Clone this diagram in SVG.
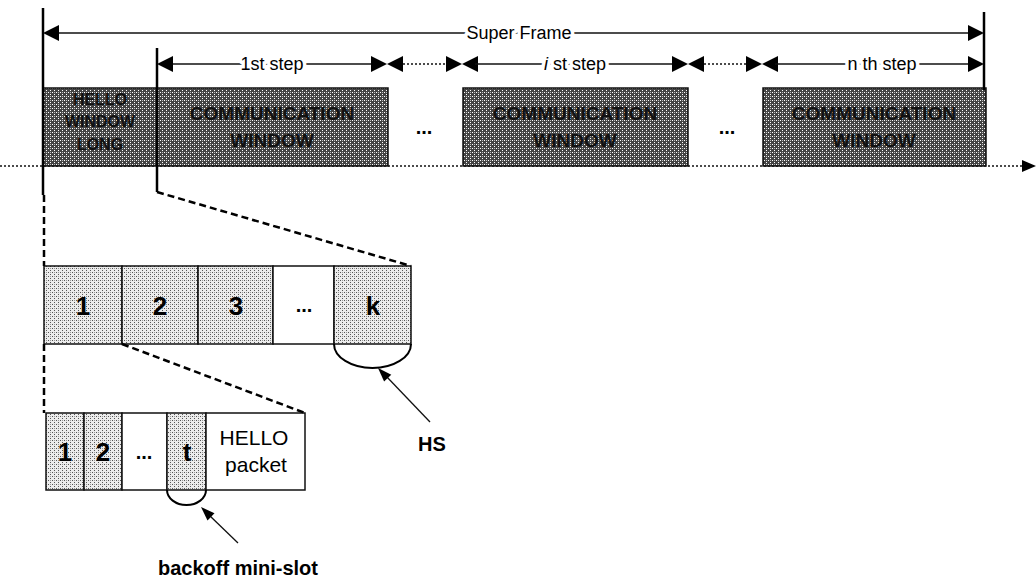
<svg xmlns="http://www.w3.org/2000/svg" width="1036" height="585" viewBox="0 0 1036 585">
<defs>
<pattern id="dark" width="4" height="4" patternUnits="userSpaceOnUse"><rect width="4" height="4" fill="#444"/><rect x="0" y="0" width="1" height="1" fill="#fff"/><rect x="2" y="2" width="1" height="1" fill="#fff"/><rect x="2" y="0" width="1" height="1" fill="#bbb"/></pattern>
<pattern id="light" width="4" height="4" patternUnits="userSpaceOnUse"><rect width="4" height="4" fill="#ececec"/><rect x="0" y="0" width="1" height="1" fill="#555"/><rect x="2" y="2" width="1" height="1" fill="#555"/><rect x="2" y="0" width="1" height="1" fill="#999"/></pattern>
<style>
text{font-family:"Liberation Sans",Arial,sans-serif;fill:#000}
.lbl{font-size:18px;paint-order:stroke;stroke:#fff;stroke-width:7px;stroke-linejoin:round}
.win{font-size:19px;font-weight:bold;fill:#111}
.hw{font-size:16px;font-weight:bold;fill:#111}
.num{font-size:26px;font-weight:bold}
.pk{font-size:21px}
.cap{font-size:20px;font-weight:bold}
.darkbox{fill:url(#dark);stroke:#111;stroke-width:1.5}
.lightbox{fill:url(#light);stroke:#111;stroke-width:1.5}
.whitebox{fill:#fff;stroke:#111;stroke-width:1.5}
.thin{stroke:#111;stroke-width:1.3;fill:none}
.dot{stroke:#111;stroke-width:1.3;stroke-dasharray:2 2;fill:none}
.bar{stroke:#000;stroke-width:2.5;fill:none}
.dash{stroke:#000;stroke-width:2.5;stroke-dasharray:7 4;fill:none}
.head{fill:#000}
</style>
</defs>
<rect width="1036" height="585" fill="#fff"/>

<g id="timeline-axis">
<line class="dot" x1="0" y1="166" x2="1024" y2="166"/>
<polygon class="head" points="1036,166 1022,160 1022,172"/>
</g>

<g id="hello-window">
<rect class="darkbox" x="43" y="88" width="114" height="78"/>
<text class="hw" x="100" y="105" text-anchor="middle">HELLO</text>
<text class="hw" x="100" y="127" text-anchor="middle">WINDOW</text>
<text class="hw" x="100" y="150" text-anchor="middle">LONG</text>
</g>
<g id="comm-window-1">
<rect class="darkbox" x="157" y="88" width="231" height="78"/>
<text class="win" x="272" y="120" text-anchor="middle">COMMUNICATION</text>
<text class="win" x="272" y="147" text-anchor="middle">WINDOW</text>
</g>
<g id="dots-1"><text class="cap" x="424" y="134" text-anchor="middle">...</text></g>
<g id="comm-window-i">
<rect class="darkbox" x="463" y="88" width="225" height="78"/>
<text class="win" x="575" y="120" text-anchor="middle">COMMUNICATION</text>
<text class="win" x="575" y="147" text-anchor="middle">WINDOW</text>
</g>
<g id="dots-2"><text class="cap" x="727" y="134" text-anchor="middle">...</text></g>
<g id="comm-window-n">
<rect class="darkbox" x="763" y="88" width="223" height="78"/>
<text class="win" x="874" y="120" text-anchor="middle">COMMUNICATION</text>
<text class="win" x="874" y="147" text-anchor="middle">WINDOW</text>
</g>

<g id="slots">
<g id="slot-1"><rect class="lightbox" x="44" y="266" width="78" height="78"/><text class="num" x="83" y="315" text-anchor="middle">1</text></g>
<g id="slot-2"><rect class="lightbox" x="122" y="266" width="76" height="78"/><text class="num" x="160" y="315" text-anchor="middle">2</text></g>
<g id="slot-3"><rect class="lightbox" x="198" y="266" width="75" height="78"/><text class="num" x="236" y="315" text-anchor="middle">3</text></g>
<g id="slot-dots"><rect class="whitebox" x="273" y="266" width="61" height="78"/><text class="cap" x="304" y="312" text-anchor="middle">...</text></g>
<g id="slot-k"><rect class="lightbox" x="334" y="266" width="77" height="78"/><text class="num" x="373" y="315" text-anchor="middle">k</text></g>
</g>

<g id="minislots">
<g id="mini-1"><rect class="lightbox" x="46" y="413" width="38" height="77"/><text class="num" x="65" y="461" text-anchor="middle">1</text></g>
<g id="mini-2"><rect class="lightbox" x="84" y="413" width="38" height="77"/><text class="num" x="103" y="461" text-anchor="middle">2</text></g>
<g id="mini-dots"><rect class="whitebox" x="122" y="413" width="45" height="77"/><text class="cap" x="144" y="459" text-anchor="middle">...</text></g>
<g id="mini-t"><rect class="lightbox" x="167" y="413" width="39" height="77"/><text class="num" x="187" y="461" text-anchor="middle">t</text></g>
<g id="hello-packet"><rect class="whitebox" x="206" y="413" width="99" height="77"/><text class="pk" x="254" y="445" text-anchor="middle">HELLO</text><text class="pk" x="256" y="472" text-anchor="middle">packet</text></g>
</g>

<g id="label-hs"><text class="cap" x="432" y="451" text-anchor="middle">HS</text></g>
<g id="label-backoff"><text class="cap" x="238" y="575" text-anchor="middle">backoff mini-slot</text></g>

<g id="connectors">
<line class="bar" x1="43" y1="8" x2="43" y2="195"/>
<line class="bar" x1="157" y1="48" x2="157" y2="192"/>
<line class="bar" x1="984" y1="12" x2="984" y2="90"/>
<line class="dash" x1="44" y1="195" x2="44" y2="266"/>
<line class="dash" x1="157" y1="192" x2="411" y2="266"/>
<line class="dash" x1="44" y1="344" x2="44" y2="413"/>
<line class="dash" x1="122" y1="344" x2="305" y2="413"/>
<line class="thin" x1="56" y1="33" x2="972" y2="33"/>
<polygon class="head" points="43,33 59,25 59,41"/>
<polygon class="head" points="984,33 968,25 968,41"/>
<text class="lbl" x="519" y="39" text-anchor="middle">Super Frame</text>
<line class="thin" x1="170" y1="64" x2="374" y2="64"/>
<polygon class="head" points="157,64 173,56 173,72"/>
<polygon class="head" points="387,64 371,56 371,72"/>
<text class="lbl" x="272" y="70" text-anchor="middle">1st step</text>
<polygon class="head" points="387,64 403,56 403,72"/>
<line class="dot" x1="403" y1="64" x2="446" y2="64"/>
<polygon class="head" points="462,64 446,56 446,72"/>
<polygon class="head" points="462,64 478,56 478,72"/>
<line class="thin" x1="475" y1="64" x2="675" y2="64"/>
<polygon class="head" points="688,64 672,56 672,72"/>
<text class="lbl" x="575" y="70" text-anchor="middle"><tspan font-style="italic">i</tspan> st step</text>
<polygon class="head" points="688,64 704,56 704,72"/>
<line class="dot" x1="704" y1="64" x2="746" y2="64"/>
<polygon class="head" points="762,64 746,56 746,72"/>
<polygon class="head" points="762,64 778,56 778,72"/>
<line class="thin" x1="775" y1="64" x2="971" y2="64"/>
<polygon class="head" points="984,64 968,56 968,72"/>
<text class="lbl" x="882" y="70" text-anchor="middle">n th step</text>
<path class="bar" style="stroke-width:2" d="M334,344 A38.5,24 0 0 0 411,344"/>
<line class="thin" x1="430" y1="422" x2="386" y2="376"/>
<polygon class="head" points="378,368 391.3,374.7 384.1,381.6"/>
<path class="bar" style="stroke-width:2" d="M167,490 A19.5,15 0 0 0 206,490"/>
<line class="thin" x1="238" y1="543" x2="209" y2="515"/>
<polygon class="head" points="201,507 214.5,513.2 207.5,520.4"/>
</g>
</svg>
